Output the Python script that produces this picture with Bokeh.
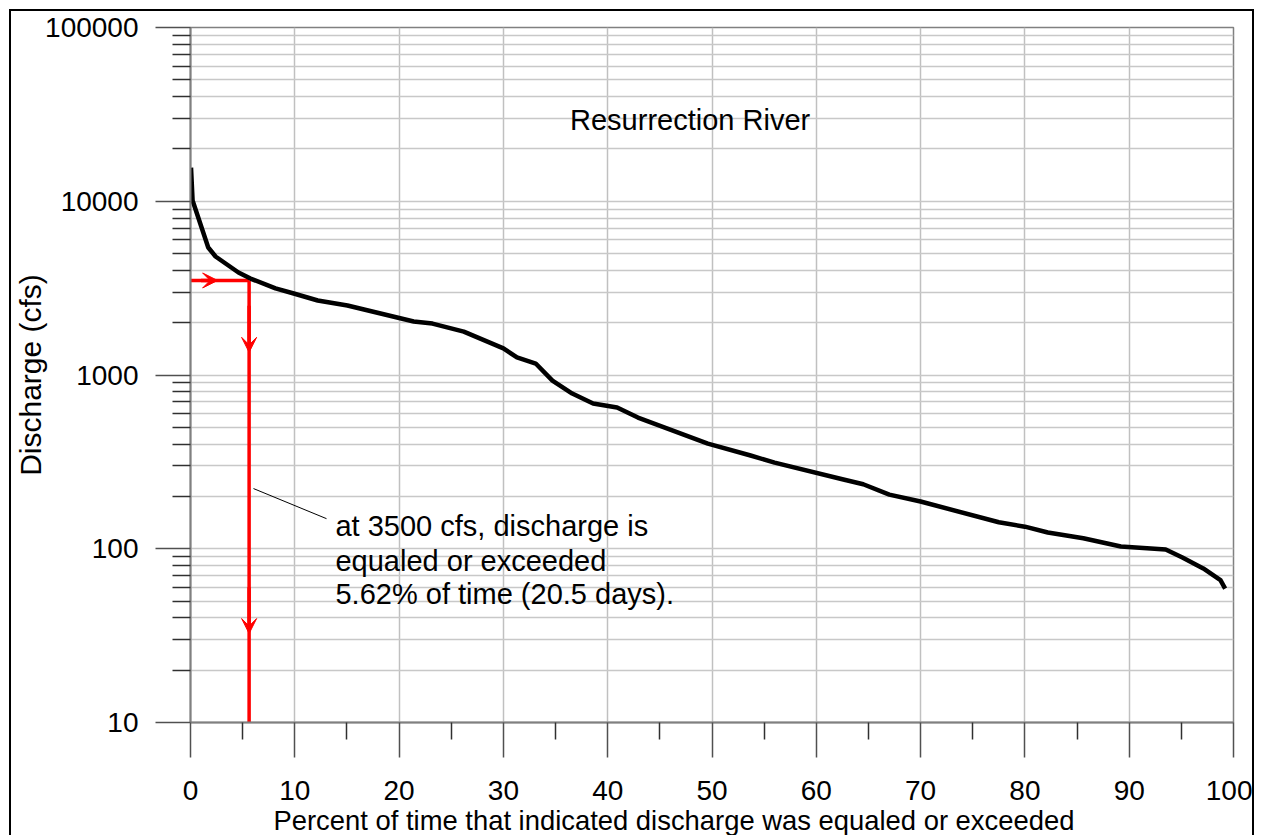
from bokeh.plotting import figure
from bokeh.models import FixedTicker, NumeralTickFormatter, Label, Arrow, VeeHead, Range1d, Title
from bokeh.embed import file_html
from bokeh.resources import INLINE

# ---- data ----
pct_exceeded = [0.05, 0.2, 1.7, 2.4, 4.6, 5.75, 8.15, 9.9, 12.2, 15.05, 21.4, 23.2, 26.2,
                30.0, 31.3, 33.1, 34.7, 36.6, 38.6, 40.9, 42.9, 49.6, 53.7, 56.0, 62.5,
                64.5, 67.0, 70.0, 77.5, 80.0, 82.2, 85.6, 89.2, 93.5, 95.1, 97.1, 98.75, 99.2]
discharge_cfs = [15600, 10100, 5420, 4810, 3890, 3590, 3150, 2944, 2685, 2512, 2033, 1977, 1778,
                 1422, 1262, 1164, 929, 782, 686, 650, 569, 403, 344, 313, 251,
                 235, 205, 187, 142, 134, 124, 115, 103, 99, 89, 77, 66, 59]

threshold_cfs = 3500
threshold_pct = 5.62
y_floor = 10

x_major = [0, 10, 20, 30, 40, 50, 60, 70, 80, 90, 100]
x_minor = [5, 15, 25, 35, 45, 55, 65, 75, 85, 95]
y_major = [10, 100, 1000, 10000, 100000]
y_minor = [m * d for d in [10, 100, 1000, 10000] for m in range(2, 10)]

title_text = "Resurrection River"
x_label = "Percent of time that indicated discharge was equaled or exceeded"
y_label = "Discharge (cfs)"
note_lines = ["at 3500 cfs, discharge is", "equaled or exceeded", "5.62% of time (20.5 days)."]

FONT = "Liberation Sans"
FS_TICK = "28px"
FS = "29px"

p = figure(width=1245, height=826, y_axis_type="log",
           x_range=Range1d(0, 100), y_range=Range1d(10, 100000),
           output_backend="svg", toolbar_location=None,
           min_border_left=179, min_border_right=23, min_border_top=16, min_border_bottom=115)
p.styles = {"margin-left": "9px", "margin-top": "9px",
            "border-left": "2px solid black", "border-top": "2px solid black",
            "border-right": "2px solid black"}
p.background_fill_color = "white"
p.border_fill_color = "white"
p.outline_line_color = "#808080"
p.outline_line_width = 1.5

# axes
p.xaxis.ticker = FixedTicker(ticks=x_major, minor_ticks=x_minor)
p.yaxis.ticker = FixedTicker(ticks=y_major, minor_ticks=y_minor)
p.yaxis.formatter = NumeralTickFormatter(format="0")
for ax in (p.xaxis, p.yaxis):
    ax.axis_line_color = "#808080"
    ax.axis_line_width = 2
    ax.major_tick_line_color = "#505050"
    ax.major_tick_line_width = 1.5
    ax.minor_tick_line_color = "#303030"
    ax.minor_tick_line_width = 1.5
    ax.major_tick_in = 0
    ax.minor_tick_in = 0
    ax.major_label_text_font = FONT
    ax.major_label_text_font_size = FS_TICK
    ax.major_label_text_color = "black"
p.xaxis.major_tick_out = 35
p.xaxis.minor_tick_out = 17
p.yaxis.major_tick_out = 35
p.yaxis.minor_tick_out = 18
p.xaxis.major_label_standoff = 23
p.yaxis.major_label_standoff = 17
p.yaxis.axis_label = y_label
p.yaxis.axis_label_text_font = FONT
p.yaxis.axis_label_text_font_size = "30px"
p.yaxis.axis_label_text_font_style = "normal"
p.yaxis.axis_label_text_color = "black"
p.yaxis.axis_label_standoff = -5

# x-axis caption (offset to the left of centre as in the reference)
p.add_layout(Title(text=x_label, align="left", offset=83, standoff=0,
                   text_font=FONT, text_font_size="27.4px", text_font_style="normal",
                   text_color="black"), "below")

# grids
p.xgrid.ticker = FixedTicker(ticks=x_major)
p.xgrid.grid_line_color = "#c0c0c0"
p.xgrid.grid_line_width = 1.5
p.ygrid.ticker = FixedTicker(ticks=y_major, minor_ticks=y_minor)
p.ygrid.grid_line_color = "#c8c8c8"
p.ygrid.grid_line_width = 1.5
p.ygrid.minor_grid_line_color = "#c8c8c8"
p.ygrid.minor_grid_line_width = 1.5

# red threshold lines
p.line([0, threshold_pct], [threshold_cfs, threshold_cfs], line_color="red", line_width=3.5)
p.line([threshold_pct, threshold_pct], [threshold_cfs, y_floor], line_color="red", line_width=3.5)

head = dict(size=15, fill_color="red", line_color="red", line_width=1)
p.add_layout(Arrow(end=VeeHead(**head), x_start=1.0, y_start=threshold_cfs,
                   x_end=2.6, y_end=threshold_cfs, line_color="red", line_width=3.5))
p.add_layout(Arrow(end=VeeHead(**head), x_start=threshold_pct, y_start=2500,
                   x_end=threshold_pct, y_end=1350, line_color="red", line_width=3.5))
p.add_layout(Arrow(end=VeeHead(**head), x_start=threshold_pct, y_start=60,
                   x_end=threshold_pct, y_end=32.5, line_color="red", line_width=3.5))

# duration curve
p.line(pct_exceeded, discharge_cfs, line_color="black", line_width=4.5, line_join="round")

# leader line
p.line([6.04, 13.04], [222, 149], line_color="black", line_width=1)

# texts
p.add_layout(Label(x=47.9, y=29500, text=title_text, text_align="center",
                   text_baseline="alphabetic", text_font=FONT, text_font_size=FS,
                   text_color="black"))
for txt, yv in zip(note_lines, [134.3, 85.5, 54.6]):
    p.add_layout(Label(x=13.9, y=yv, text=txt, text_align="left",
                       text_baseline="alphabetic", text_font=FONT, text_font_size=FS,
                       text_color="black"))

open("out.html", "w").write(file_html(p, INLINE))
